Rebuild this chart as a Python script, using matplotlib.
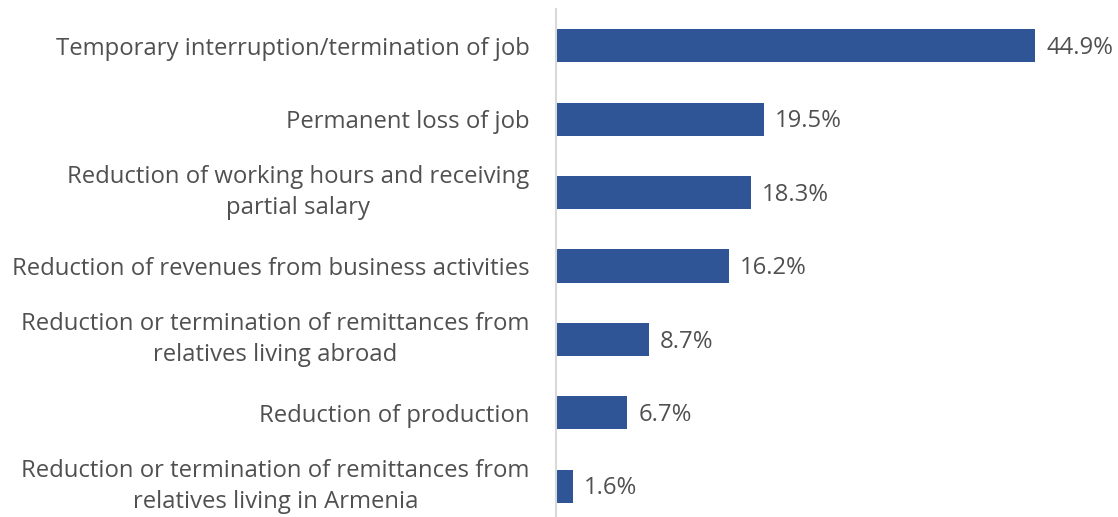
import matplotlib
matplotlib.use("Agg")
import matplotlib.pyplot as plt

categories = [
    "Temporary interruption/termination of job",
    "Permanent loss of job",
    "Reduction of working hours and receiving\npartial salary",
    "Reduction of revenues from business activities",
    "Reduction or termination of remittances from\nrelatives living abroad",
    "Reduction of production",
    "Reduction or termination of remittances from\nrelatives living in Armenia",
]
values = [44.9, 19.5, 18.3, 16.2, 8.7, 6.7, 1.6]
value_labels = ["44.9%", "19.5%", "18.3%", "16.2%", "8.7%", "6.7%", "1.6%"]

plt.rcParams['font.family'] = ['Open Sans', 'DejaVu Sans']
text_color = "#505050"
bar_color = "#2F5597"

W, H = 1118, 517
fig = plt.figure(figsize=(W / 100, H / 100), dpi=100)
left = 556 / W
width = 544 / W
top_px = 9
bottom_px = 523
ax = fig.add_axes([left, (H - bottom_px) / H, width, (bottom_px - top_px) / H])

y = list(range(len(categories)))
bars = ax.barh(y, values, height=0.45, color=bar_color)
ax.set_ylim(len(categories) - 0.5, -0.5)
ax.set_xlim(0, 51)

ax.set_yticks(y)
ax.set_yticklabels(categories, fontsize=17.2, color=text_color,
                   multialignment="center", linespacing=1.4)
for t in ax.get_yticklabels():
    if "\n" in t.get_text():
        t.set_va("center")
ax.tick_params(axis="y", length=0, pad=19)
ax.set_xticks([])

for s in ["top", "right", "bottom"]:
    ax.spines[s].set_visible(False)
ax.spines["left"].set_color("#d9d9d9")
ax.spines["left"].set_linewidth(1.5)

for yi, v, lab in zip(y, values, value_labels):
    ax.annotate(lab, xy=(v, yi), xytext=(8, -1.5), textcoords="offset points",
                ha="left", va="center", fontsize=17.2, color=text_color)

fig.savefig("out.png", dpi=100)
